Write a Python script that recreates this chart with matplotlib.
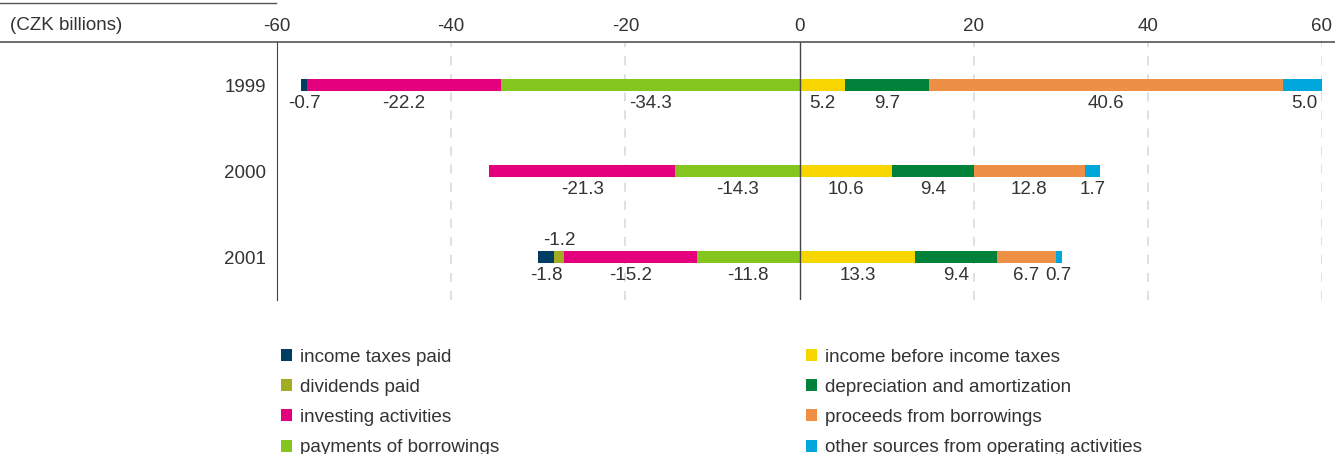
import numpy as np
import matplotlib.pyplot as plt
from matplotlib.lines import Line2D
from matplotlib.patches import Patch

plt.rcParams['font.family'] = ['Liberation Sans', 'DejaVu Sans']

years = ["1999", "2000", "2001"]
categories = ["income taxes paid", "dividends paid", "investing activities", "payments of borrowings",
              "income before income taxes", "depreciation and amortization", "proceeds from borrowings",
              "other sources from operating activities"]
colors = ["#003d63", "#a3ad24", "#e4007c", "#84c51f", "#f7d600", "#00823b", "#ee8f46", "#00a7dc"]

income_taxes = [-0.7, 0.0, -1.8]
dividends = [0.0, 0.0, -1.2]
investing = [-22.2, -21.3, -15.2]
payments = [-34.3, -14.3, -11.8]
income_before = [5.2, 10.6, 13.3]
depreciation = [9.7, 9.4, 9.4]
proceeds = [40.6, 12.8, 6.7]
other_sources = [5.0, 1.7, 0.7]

# order of stacking outward from zero
neg_series = [payments, investing, dividends, income_taxes]
neg_idx = [3, 2, 1, 0]
pos_series = [income_before, depreciation, proceeds, other_sources]
pos_idx = [4, 5, 6, 7]

txt = "#333333"
fs = 13.5
fig = plt.figure(figsize=(13.35, 4.54), dpi=100)
ax = fig.add_axes([277/1335, 1-300/454, 1045/1335, 258/454])

ypos = np.arange(len(years))
h = 0.13
for series, idx_list in [(neg_series, neg_idx), (pos_series, pos_idx)]:
    base = np.zeros(len(years))
    for vals, ci in zip(series, idx_list):
        vals = np.array(vals)
        ax.barh(ypos, vals, left=base, height=h, color=colors[ci], zorder=3)
        for j, v in enumerate(vals):
            if v == 0:
                continue
            cx = base[j] + v / 2
            if ci == 1:
                ax.text(cx, ypos[j] - 0.19, f"{v:.1f}", ha="center", va="center", fontsize=fs, color=txt)
            else:
                ax.text(cx, ypos[j] + 0.22, f"{v:.1f}", ha="center", va="center", fontsize=fs, color=txt)
        base = base + vals

ax.set_xlim(-60, 60)
ax.set_ylim(2.5, -0.5)
ax.xaxis.tick_top()
ax.set_xticks(np.arange(-60, 61, 20))
ax.set_xticklabels([f"{t}" for t in range(-60, 61, 20)])
ax.tick_params(axis="x", length=0, pad=5, labelsize=fs, labelcolor=txt)
ax.set_yticks(ypos)
ax.set_yticklabels(years)
ax.tick_params(axis="y", length=0, pad=8, labelsize=fs, labelcolor=txt)
for s in ["top", "right", "bottom"]:
    ax.spines[s].set_visible(False)
ax.spines["left"].set_color("#444444")
for g in [-40, -20, 20, 40, 60]:
    ax.axvline(g, color="#dddddd", linestyle=(0, (5, 5)), linewidth=1.3, zorder=1)
ax.axvline(0, color="#444444", linewidth=1.0, zorder=4)

# top rules and unit label
fig.add_artist(Line2D([0, 1], [1-42/454, 1-42/454], color="#555555", linewidth=1.2))
fig.add_artist(Line2D([0, 276/1335], [1-3/454, 1-3/454], color="#555555", linewidth=1.0))
fig.text(10/1335, 1-25/454, "(CZK billions)", ha="left", va="center", fontsize=fs, color=txt)

handles = [Patch(facecolor=c, edgecolor="none") for c in colors]
for k, x0 in [(0, 273), (4, 798)]:
    fig.legend(handles[k:k+4], categories[k:k+4], loc="upper left", bbox_to_anchor=(x0/1335, 1-341/454),
               frameon=False, fontsize=13.6, labelcolor=txt, handlelength=0.6, handleheight=0.6,
               handletextpad=0.45, labelspacing=0.7, borderaxespad=0)

fig.savefig("out.png", dpi=100)
